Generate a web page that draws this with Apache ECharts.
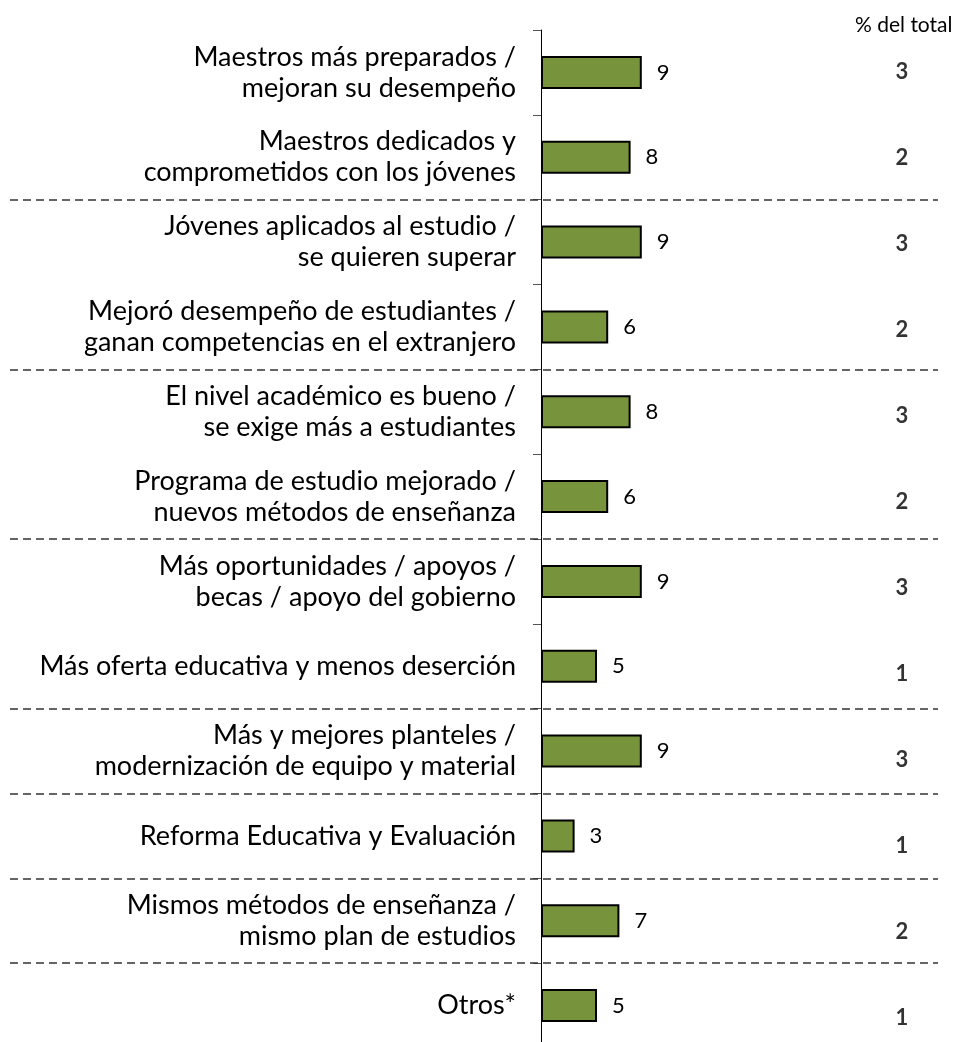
<!DOCTYPE html>
<html style="height: 100%">
<head>
<meta charset="UTF-8">
<title>Razones de mejora</title>
<script src="https://cdn.jsdelivr.net/npm/echarts@6/dist/echarts.min.js"></script>
</head>
<body style="height:100%; margin:0; background:#ffffff">
<div id="chart" style="width:955px;height:1042px;"></div>
<script>
var categorias = [
  'Maestros más preparados /\nmejoran su desempeño',
  'Maestros dedicados y\ncomprometidos con los jóvenes',
  'Jóvenes aplicados al estudio /\nse quieren superar',
  'Mejoró desempeño de estudiantes /\nganan competencias en el extranjero',
  'El nivel académico es bueno /\nse exige más a estudiantes',
  'Programa de estudio mejorado /\nnuevos métodos de enseñanza',
  'Más oportunidades / apoyos /\nbecas / apoyo del gobierno',
  'Más oferta educativa y menos deserción',
  'Más y mejores planteles /\nmodernización de equipo y material',
  'Reforma Educativa y Evaluación',
  'Mismos métodos de enseñanza /\nmismo plan de estudios',
  'Otros*'
];
var valores = [9, 8, 9, 6, 8, 6, 9, 5, 9, 3, 7, 5];
var pctTotal = [3, 2, 3, 2, 3, 2, 3, 1, 3, 1, 2, 1];
// separadores punteados: limite antes de la categoria con este indice
var separadores = [2, 4, 6, 8, 9, 10, 11];

var fuente = 'Lato, "Open Sans", sans-serif';
var myChart = echarts.init(document.getElementById('chart'));

var option = {
  animation: false,
  title: {
    text: '% del total',
    left: 850, top: 10,
    textStyle: { fontFamily: fuente, fontSize: 21, fontWeight: 'normal', color: '#000' }
  },
  grid: [
    { left: 541, top: 30, width: 224, height: 1018, outerBoundsMode: 'none' },
    { left: 10, top: 30, width: 928, height: 1018, outerBoundsMode: 'none' },
    { left: 862, top: 29, width: 80, height: 1032, outerBoundsMode: 'none' }
  ],
  xAxis: [
    { gridIndex: 0, type: 'value', min: 0, max: 20, show: false },
    { gridIndex: 1, type: 'value', min: 0, max: 1, show: false },
    { gridIndex: 2, type: 'value', min: 0, max: 1, show: false }
  ],
  yAxis: [
    {
      gridIndex: 0, type: 'category', inverse: true, data: categorias,
      axisLine: { lineStyle: { color: '#000', width: 1 } },
      axisTick: { show: true, length: 8, lineStyle: { color: '#555', width: 1 } },
      axisLabel: {
        fontFamily: fuente, fontSize: 27, color: '#000', margin: 25,
        lineHeight: 31, align: 'right'
      }
    },
    { gridIndex: 1, type: 'value', min: 0, max: 12, inverse: true, show: false },
    { gridIndex: 2, type: 'category', inverse: true, data: categorias, show: false }
  ],
  series: [
    {
      type: 'bar', xAxisIndex: 0, yAxisIndex: 0, data: valores, barWidth: 33,
      itemStyle: { color: '#77933C', borderColor: '#000', borderWidth: 2 },
      label: {
        show: true, position: 'right', distance: 15,
        fontFamily: fuente, fontSize: 22, color: '#000'
      },
      silent: true
    },
    {
      type: 'line', xAxisIndex: 1, yAxisIndex: 1, data: [], silent: true,
      markLine: {
        silent: true, symbol: 'none', label: { show: false },
        lineStyle: { color: '#333', width: 1.5, type: [8, 5] },
        data: separadores.map(function (b) { return { yAxis: b }; })
      }
    },
    {
      type: 'scatter', xAxisIndex: 2, yAxisIndex: 2, symbolSize: 0, silent: true,
      data: pctTotal.map(function (v, i) { return [0.5, i, v]; }),
      label: {
        show: true, position: 'inside',
        formatter: function (p) { return p.data[2]; },
        fontFamily: fuente, fontSize: 22, fontWeight: 'bold', color: '#000'
      }
    }
  ]
};
myChart.setOption(option);
</script>
</body>
</html>
